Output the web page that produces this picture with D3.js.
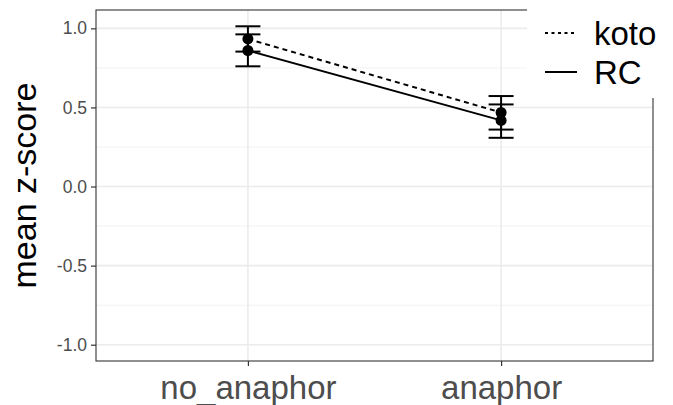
<!DOCTYPE html>
<html>
<head>
<meta charset="utf-8">
<script src="https://cdn.jsdelivr.net/npm/d3@7"></script>
<style>
html,body{margin:0;padding:0;background:#fff;}
svg{display:block;font-family:"Liberation Sans",Arial,sans-serif;}
</style>
</head>
<body>
<svg id="chart" width="673" height="405"></svg>
<script>
const categories = ["no_anaphor", "anaphor"];
const seriesNames = ["koto", "RC"];
const kotoMean = [0.933, 0.468];
const kotoLower = [0.853, 0.360];
const kotoUpper = [1.013, 0.572];
const rcMean = [0.860, 0.418];
const rcLower = [0.760, 0.308];
const rcUpper = [0.962, 0.519];
const yTicks = [-1.0, -0.5, 0.0, 0.5, 1.0];
const yMinor = [-0.75, -0.25, 0.25, 0.75];
const yLabel = "mean z-score";

const series = [
  {name: "koto", mean: kotoMean, lo: kotoLower, hi: kotoUpper, dash: "5,4"},
  {name: "RC", mean: rcMean, lo: rcLower, hi: rcUpper, dash: null}
];

const svg = d3.select("#chart");
const P = {left: 96, right: 653, top: 10, bottom: 361};

const x = d3.scalePoint().domain(categories).range([P.left, P.right]).padding(0.6);
const y = d3.scaleLinear().domain([-1.103, 1.116]).range([P.bottom, P.top]);

const grid = svg.append("g");
grid.selectAll(".ymin").data(yMinor).enter().append("line")
  .attr("x1", P.left).attr("x2", P.right)
  .attr("y1", d => y(d)).attr("y2", d => y(d))
  .attr("stroke", "#F2F2F2").attr("stroke-width", 1);
grid.selectAll(".ymaj").data(yTicks).enter().append("line")
  .attr("x1", P.left).attr("x2", P.right)
  .attr("y1", d => y(d)).attr("y2", d => y(d))
  .attr("stroke", "#EBEBEB").attr("stroke-width", 1.6);
grid.selectAll(".xmaj").data(categories).enter().append("line")
  .attr("y1", P.top).attr("y2", P.bottom)
  .attr("x1", d => x(d)).attr("x2", d => x(d))
  .attr("stroke", "#EBEBEB").attr("stroke-width", 1.6);

// axes
const yAxis = d3.axisLeft(y).tickValues(yTicks).tickFormat(d => d3.format(".1f")(d).replace("\u2212", "-")).tickSize(5).tickPadding(4);
const gy = svg.append("g").attr("transform", `translate(${P.left},0)`).call(yAxis);
gy.select(".domain").remove();
gy.selectAll(".tick line").attr("stroke", "#333").attr("stroke-width", 1.2);
gy.selectAll(".tick text").attr("fill", "#4D4D4D").style("font-size", "17.5px").style("font-family", "Liberation Sans, Arial, sans-serif");

const xAxis = d3.axisBottom(x).tickSize(5).tickPadding(6);
const gx = svg.append("g").attr("transform", `translate(0,${P.bottom})`).call(xAxis);
gx.select(".domain").remove();
gx.selectAll(".tick line").attr("stroke", "#333").attr("stroke-width", 1.2);
gx.selectAll(".tick text").attr("fill", "#4D4D4D").style("font-size", "33px").style("font-family", "Liberation Sans, Arial, sans-serif")
  .attr("dy", null).attr("y", 38);

// panel border
svg.append("rect").attr("x", P.left).attr("y", P.top)
  .attr("width", P.right - P.left).attr("height", P.bottom - P.top)
  .attr("fill", "none").attr("stroke", "#333").attr("stroke-width", 1.1);

// y title
svg.append("text")
  .attr("transform", `translate(36,${(P.top + P.bottom) / 2}) rotate(-90)`)
  .attr("text-anchor", "middle")
  .style("font-size", "34px").attr("fill", "#000")
  .text(yLabel);

// data
const plot = svg.append("g");
const line = d3.line().x(d => x(d.c)).y(d => y(d.v));
series.forEach(s => {
  const pts = categories.map((c, i) => ({c, v: s.mean[i], lo: s.lo[i], hi: s.hi[i]}));
  plot.append("path").datum(pts).attr("d", line)
    .attr("fill", "none").attr("stroke", "#000").attr("stroke-width", 2)
    .attr("stroke-dasharray", s.dash);
  const eb = plot.append("g");
  pts.forEach(p => {
    const cx = x(p.c), hw = 12.5;
    eb.append("line").attr("x1", cx).attr("x2", cx).attr("y1", y(p.lo)).attr("y2", y(p.hi))
      .attr("stroke", "#000").attr("stroke-width", 2);
    [p.lo, p.hi].forEach(v => {
      eb.append("line").attr("x1", cx - hw).attr("x2", cx + hw).attr("y1", y(v)).attr("y2", y(v))
        .attr("stroke", "#000").attr("stroke-width", 2);
    });
  });
});
series.forEach(s => {
  plot.selectAll(null).data(categories.map((c, i) => ({c, v: s.mean[i]}))).enter()
    .append("circle").attr("cx", d => x(d.c)).attr("cy", d => y(d.v)).attr("r", 5.5).attr("fill", "#000");
});

// legend
const lg = svg.append("g");
lg.append("rect").attr("x", 527).attr("y", 0).attr("width", 146).attr("height", 98).attr("fill", "#fff");
const legY = [33, 72];
series.forEach((s, i) => {
  lg.append("line").attr("x1", 545).attr("x2", 577).attr("y1", legY[i]).attr("y2", legY[i])
    .attr("stroke", "#000").attr("stroke-width", 2).attr("stroke-dasharray", s.dash ? "3,3.5" : null);
  lg.append("text").attr("x", 594).attr("y", legY[i] + 12).style("font-size", "33px").attr("fill", "#000").text(s.name);
});
</script>
</body>
</html>
